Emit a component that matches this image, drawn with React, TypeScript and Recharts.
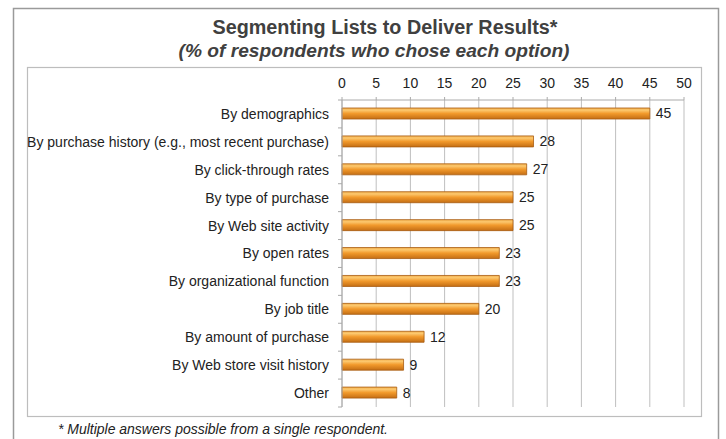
import React from "react";
import { BarChart, Bar, XAxis, YAxis, CartesianGrid, LabelList } from "recharts";

const categories = [
  "By demographics",
  "By purchase history (e.g., most recent purchase)",
  "By click-through rates",
  "By type of purchase",
  "By Web site activity",
  "By open rates",
  "By organizational function",
  "By job title",
  "By amount of purchase",
  "By Web store visit history",
  "Other",
];
const values = [45, 28, 27, 25, 25, 23, 23, 20, 12, 9, 8];
const xTicks = [0, 5, 10, 15, 20, 25, 30, 35, 40, 45, 50];
const title = "Segmenting Lists to Deliver Results*";
const subtitle = "(% of respondents who chose each option)";
const footnote = "* Multiple answers possible from a single respondent.";

const data = categories.map((c, i) => ({ name: c, value: values[i] }));

const FONT = "'Liberation Sans', Arial, sans-serif";
const TICK_SIZE = 6;
const TICK_MARGIN = 7;

function CatTick(props: any) {
  const { x, y, payload, height, visibleTicksCount, index } = props;
  const band = height && visibleTicksCount ? height / visibleTicksCount : 0;
  const axisX = x + TICK_SIZE + TICK_MARGIN;
  const isLast = visibleTicksCount && index === visibleTicksCount - 1;
  return (
    <g>
      {band > 0 && (
        <line x1={axisX - 4} x2={axisX} y1={y - band / 2} y2={y - band / 2} stroke="#aaaaaa" />
      )}
      {band > 0 && isLast && (
        <line x1={axisX - 4} x2={axisX} y1={y + band / 2} y2={y + band / 2} stroke="#aaaaaa" />
      )}
      <text x={x} y={y} dy="0.355em" textAnchor="end" fill="#222" fontSize={14} fontFamily={FONT}>
        {payload.value}
      </text>
    </g>
  );
}

export default function App() {
  return (
    <div style={{ position: "absolute", left: 0, top: 0, width: 726, height: 439, background: "#fff", fontFamily: FONT }}>
      <svg width={726} height={439} style={{ position: "absolute", left: 0, top: 0 }}>
        <rect x={13.5} y={8.5} width={705} height={440} fill="#fff" stroke="#9a9a9a" strokeWidth={1.5} />
        <rect x={27.5} y={67.5} width={674} height={349} fill="#fff" stroke="#bdbdbd" strokeWidth={1.2} />
        <text x={385} y={34} textAnchor="middle" fontFamily={FONT} fontWeight="bold" fontSize={20} fill="#404040" textLength={345} lengthAdjust="spacingAndGlyphs">{title}</text>
        <text x={374} y={57} textAnchor="middle" fontFamily={FONT} fontWeight="bold" fontStyle="italic" fontSize={19} fill="#404040" textLength={391} lengthAdjust="spacingAndGlyphs">{subtitle}</text>
        <text x={58} y={434} fontFamily={FONT} fontStyle="italic" fontSize={14} fill="#222" textLength={330} lengthAdjust="spacingAndGlyphs">{footnote}</text>
      </svg>
      <div style={{ position: "absolute", left: 0, top: 0 }}>
        <BarChart
          width={726}
          height={439}
          data={data}
          layout="vertical"
          margin={{ top: 80, right: 42, bottom: 32, left: 0 }}
          barCategoryGap={0}
        >
          <defs>
            <linearGradient id="barGrad" x1="0" y1="0" x2="0" y2="1">
              <stop offset="0%" stopColor="#f3b04e" />
              <stop offset="20%" stopColor="#fcc86e" />
              <stop offset="50%" stopColor="#f29a2c" />
              <stop offset="100%" stopColor="#c46e14" />
            </linearGradient>
          </defs>
          <CartesianGrid horizontal={false} vertical={true} stroke="#bfbfbf" strokeWidth={1} />
          <XAxis
            type="number"
            orientation="top"
            domain={[0, 50]}
            ticks={xTicks}
            interval={0}
            height={20}
            tickSize={3}
            tickMargin={9}
            stroke="#aaaaaa"
            tick={{ fill: "#222", fontSize: 14, fontFamily: FONT }}
          />
          <YAxis
            type="category"
            dataKey="name"
            width={342}
            interval={0}
            tickLine={false}
            tickSize={TICK_SIZE}
            tickMargin={TICK_MARGIN}
            stroke="#aaaaaa"
            tick={<CatTick />}
          />
          <Bar
            dataKey="value"
            barSize={11}
            fill="url(#barGrad)"
            stroke="#a85c10"
            strokeWidth={0.8}
            isAnimationActive={false}
          >
            <LabelList dataKey="value" position="right" offset={6} fill="#222" fontSize={14} fontFamily={FONT} />
          </Bar>
        </BarChart>
      </div>
    </div>
  );
}
